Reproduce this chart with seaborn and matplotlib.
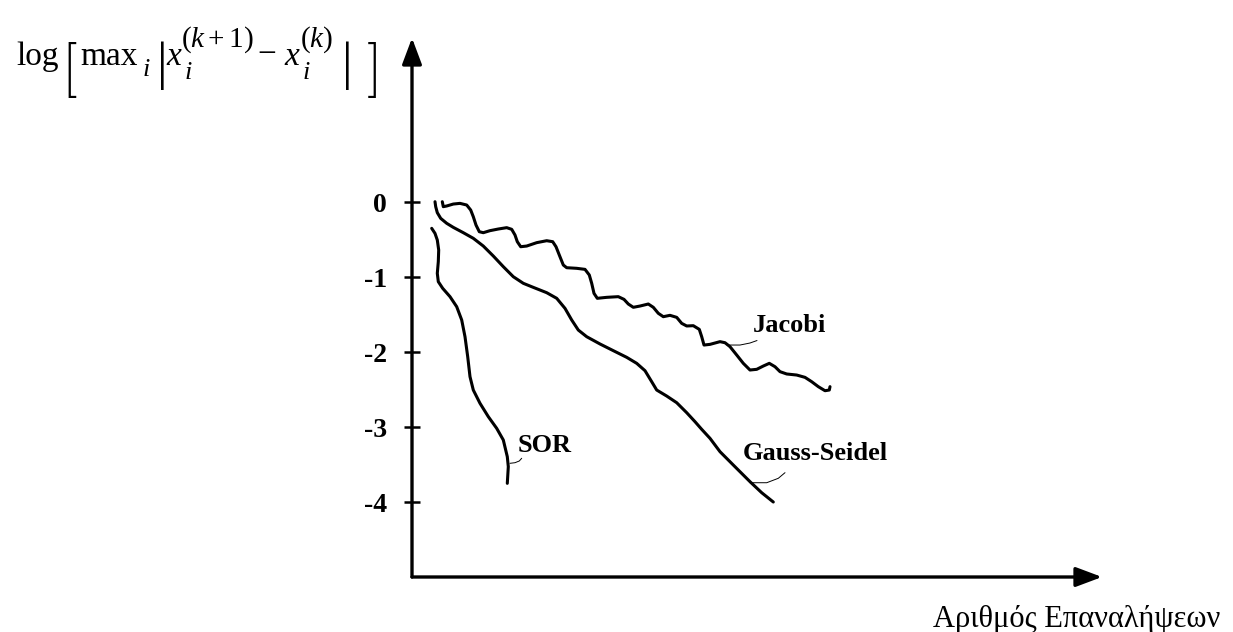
import numpy as np
import pandas as pd
import matplotlib
matplotlib.use('Agg')
import matplotlib.pyplot as plt
import seaborn as sns

# x = iterations (arbitrary units), y = log of max change
sor_x = [19.7, 23.0, 25.3, 26.7, 26.3, 25.3, 26.3, 30.7, 38.0, 44.7, 49.7, 53.0,
         55.7, 58.0, 61.3, 68.0, 76.3, 84.7, 91.3, 95.3, 96.3, 95.3]
sor_y = [-0.351, -0.418, -0.507, -0.640, -0.796, -0.951, -1.062, -1.151, -1.262,
         -1.396, -1.573, -1.796, -2.062, -2.329, -2.507, -2.684, -2.862, -3.018,
         -3.173, -3.396, -3.529, -3.751]

gs_x = [23.0, 23.7, 25.3, 28.7, 34.7, 41.3, 51.3, 61.3, 71.3, 81.3, 91.3, 101.3,
        111.3, 121.3, 134.7, 144.7, 153.0, 159.7, 166.3, 174.7, 188.0, 201.3,
        214.7, 224.7, 233.0, 239.7, 244.7, 254.7, 264.7, 274.7, 283.0, 289.7,
        298.0, 308.0, 321.3, 338.0, 349.7, 361.3]
gs_y = [0.004, -0.062, -0.142, -0.218, -0.284, -0.338, -0.409, -0.484, -0.587,
        -0.720, -0.862, -0.996, -1.084, -1.138, -1.209, -1.284, -1.418, -1.573,
        -1.707, -1.796, -1.893, -1.982, -2.071, -2.151, -2.249, -2.396, -2.507,
        -2.587, -2.676, -2.809, -2.929, -3.031, -3.151, -3.329, -3.507, -3.729,
        -3.876, -4.000]

jac_x = [30.3, 31.3, 34.7, 41.3, 48.0, 54.7, 58.7, 61.3, 64.0, 67.3, 71.3, 78.0,
         86.3, 94.7, 99.7, 103.0, 105.3, 108.7, 114.7, 124.7, 134.7, 140.7, 144.0,
         147.3, 151.3, 154.7, 164.7, 173.0, 177.3, 179.7, 182.0, 185.3, 194.7,
         206.3, 212.0, 216.3, 221.3, 228.0, 236.3, 241.3, 246.3, 251.3, 258.0,
         264.7, 269.7, 274.7, 281.3, 287.3, 289.7, 292.0, 298.0, 308.0, 313.0,
         318.0, 324.7, 331.3, 338.0, 344.7, 351.3, 357.3, 363.0, 368.0, 374.7,
         384.7, 393.0, 399.7, 406.3, 413.0, 417.3, 418.0]
jac_y = [0.004, -0.062, -0.053, -0.027, -0.018, -0.040, -0.107, -0.196, -0.307,
         -0.396, -0.409, -0.382, -0.360, -0.342, -0.364, -0.440, -0.529, -0.596,
         -0.587, -0.542, -0.516, -0.529, -0.596, -0.707, -0.840, -0.876, -0.884,
         -0.898, -0.973, -1.084, -1.218, -1.284, -1.271, -1.262, -1.298, -1.360,
         -1.404, -1.387, -1.360, -1.404, -1.484, -1.529, -1.511, -1.538, -1.618,
         -1.653, -1.649, -1.698, -1.796, -1.907, -1.898, -1.862, -1.876, -1.929,
         -2.040, -2.151, -2.240, -2.231, -2.187, -2.151, -2.196, -2.262, -2.293,
         -2.307, -2.338, -2.396, -2.462, -2.516, -2.507, -2.462]

# labels and their leader lines
labels = ['SOR', 'Gauss-Seidel', 'Jacobi']
label_x = [106, 331, 341]
label_y = [-3.333, -3.44, -1.733]
lead_sor_x = [98, 103, 107.3, 109.7]
lead_sor_y = [-3.484, -3.476, -3.453, -3.417]
lead_gs_x = [338, 354.7, 366.3, 373]
lead_gs_y = [-3.743, -3.743, -3.684, -3.609]
lead_jac_x = [315, 328, 338, 345]
lead_jac_y = [-1.907, -1.907, -1.88, -1.847]

yticks = [0, -1, -2, -3, -4]
ytick_labels = ['0', '-1', '-2', '-3', '-4']

sns.set_theme(style='white')
plt.rcParams['font.family'] = ['Liberation Serif', 'DejaVu Serif']
plt.rcParams['text.color'] = 'black'
plt.rcParams['mathtext.fontset'] = 'custom'
plt.rcParams['mathtext.rm'] = 'Liberation Serif'
plt.rcParams['mathtext.it'] = 'Liberation Serif:italic'
plt.rcParams['mathtext.bf'] = 'Liberation Serif:bold'

W, H = 1233, 632
fig = plt.figure(figsize=(W / 100, H / 100), dpi=100)
ax = fig.add_axes([412 / W, 1 - 577 / H, 690 / W, 539 / H])

curves = [(sor_x, sor_y), (gs_x, gs_y), (jac_x, jac_y)]
for cx, cy in curves:
    sns.lineplot(x=cx, y=cy, sort=False, estimator=None, color='black',
                 lw=2.2, ax=ax, solid_joinstyle='round', solid_capstyle='round')

for lx, ly in [(lead_sor_x, lead_sor_y), (lead_gs_x, lead_gs_y), (lead_jac_x, lead_jac_y)]:
    ax.plot(lx, ly, color='black', lw=0.7)

for name, tx, ty in zip(labels, label_x, label_y):
    ax.text(tx, ty, name, fontsize=19, fontweight='bold', ha='left',
            va='baseline', color='black')

ax.set_xlim(0, 690)
ax.set_ylim(-5, 2.187)
ax.set_xticks([])
ax.set_yticks(yticks)
ax.set_yticklabels(ytick_labels, fontweight='bold')
ax.tick_params(axis='y', direction='inout', length=12, width=1.8, pad=12,
               labelsize=20, colors='black', left=True)
for s in ax.spines.values():
    s.set_visible(False)

arrow = dict(arrowstyle='-|>,head_length=0.8,head_width=0.3', mutation_scale=20,
             lw=2.4, color='black', shrinkA=0, shrinkB=0)
ax.annotate('', xy=(1, 0), xytext=(0, 0), xycoords='axes fraction', arrowprops=arrow)
ax.annotate('', xy=(0, 1), xytext=(0, 0), xycoords='axes fraction', arrowprops=arrow)


def put(px, py, s, size, **kw):
    fig.text(px / W, 1 - py / H, s, fontsize=size, color='black', **kw)


# y axis title, laid out piece by piece like an equation editor
put(16, 65, 'log', 24, ha='left', va='baseline')
put(61, 70, '[', 40, family='cmr10', ha='left', va='center')
put(80, 65, 'max', 24, ha='left', va='baseline')
put(143, 76, 'i', 19, style='italic', ha='left', va='baseline')
put(162, 66, '|', 38, ha='center', va='center')
put(166, 65, 'x', 24, style='italic', ha='left', va='baseline')
put(185, 79, 'i', 19, style='italic', ha='left', va='baseline')
put(181, 47, r'$(k+1)$', 21, ha='left', va='baseline')
put(257, 63, '\u2212', 24, ha='left', va='baseline')
put(284, 65, 'x', 24, style='italic', ha='left', va='baseline')
put(303, 79, 'i', 19, style='italic', ha='left', va='baseline')
put(300, 47, r'$(k)$', 21, ha='left', va='baseline')
put(347, 66, '|', 38, ha='center', va='center')
put(382, 70, ']', 40, family='cmr10', ha='right', va='center')

put(933, 627, 'Αριθμός Επαναλήψεων', 22, ha='left', va='baseline')

fig.savefig('out.png', dpi=100)
